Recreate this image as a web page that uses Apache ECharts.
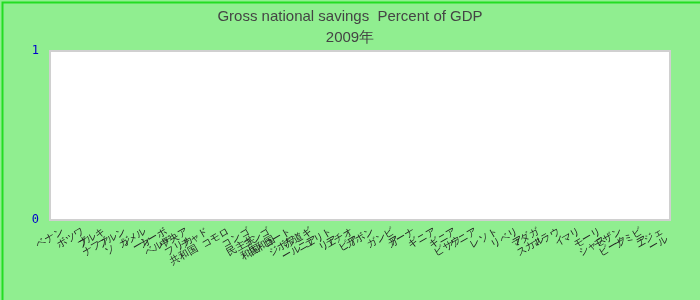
<!DOCTYPE html>
<html>
<head>
<meta charset="utf-8">
<script src="https://cdn.jsdelivr.net/npm/echarts@6/dist/echarts.min.js"></script>
<style>
html,body{margin:0;padding:0;background:#90EE90;}
#chart{width:700px;height:300px;}
</style>
</head>
<body>
<div id="chart"></div>
<script>
const titleText = 'Gross national savings  Percent of GDP';
const subtitleText = '2009年';
const categories = ['ベナン','ボツワナ','ブルキナファソ','ブルンジ','カメルーン','カーボベルデ','中央アフリカ共和国','チャド','コモロ','コンゴ民主共和国','コンゴ共和国','コートジボワール','赤道ギニア','エリトリア','エチオピア','ガボン','ガンビア','ガーナ','ギニア','ギニアビサウ','ケニア','レソト','リベリア','マダガスカル','マラウイ','マリ','モーリシャス','モザンビーク','ナミビア','ニジェール'];
const values = [null,null,null,null,null,null,null,null,null,null,null,null,null,null,null,null,null,null,null,null,null,null,null,null,null,null,null,null,null,null];
const yMin = 0, yMax = 1, yInterval = 1;

const chart = echarts.init(document.getElementById('chart'));
chart.setOption({
  backgroundColor: '#90EE90',
  animation: false,
  title: {
    text: titleText,
    subtext: subtitleText,
    left: 'center',
    top: 4,
    itemGap: 6,
    textStyle: {fontFamily: 'Liberation Sans', fontSize: 15, fontWeight: 'normal', color: '#444'},
    subtextStyle: {fontFamily: 'Liberation Sans', fontSize: 15, color: '#444'}
  },
  graphic: [{
    type: 'rect', left: 0, top: 0, z: 100,
    shape: {x: 0, y: 0, width: 699, height: 299},
    style: {fill: 'none', stroke: '#22dd22', lineWidth: 2}
  }],
  grid: {left: 50, right: 30, top: 51, bottom: 80, show: true, backgroundColor: '#fff', borderColor: '#d0d0d0', borderWidth: 2},
  xAxis: {
    type: 'category', data: categories,
    axisLine: {show: false}, axisTick: {show: false},
    axisLabel: {interval: 0, rotate: 30, fontSize: 10, color: '#222', width: 30, overflow: 'break', lineHeight: 10, margin: 6, verticalAlign: 'top'}
  },
  yAxis: {
    type: 'value', min: yMin, max: yMax, interval: yInterval,
    axisLine: {show: false}, axisTick: {show: false}, splitLine: {show: false},
    axisLabel: {color: '#0000cc', fontFamily: 'DejaVu Sans Mono', fontSize: 12, margin: 11}
  },
  series: [{type: 'bar', data: values, itemStyle: {color: '#4472c4'}}]
});
</script>
</body>
</html>
